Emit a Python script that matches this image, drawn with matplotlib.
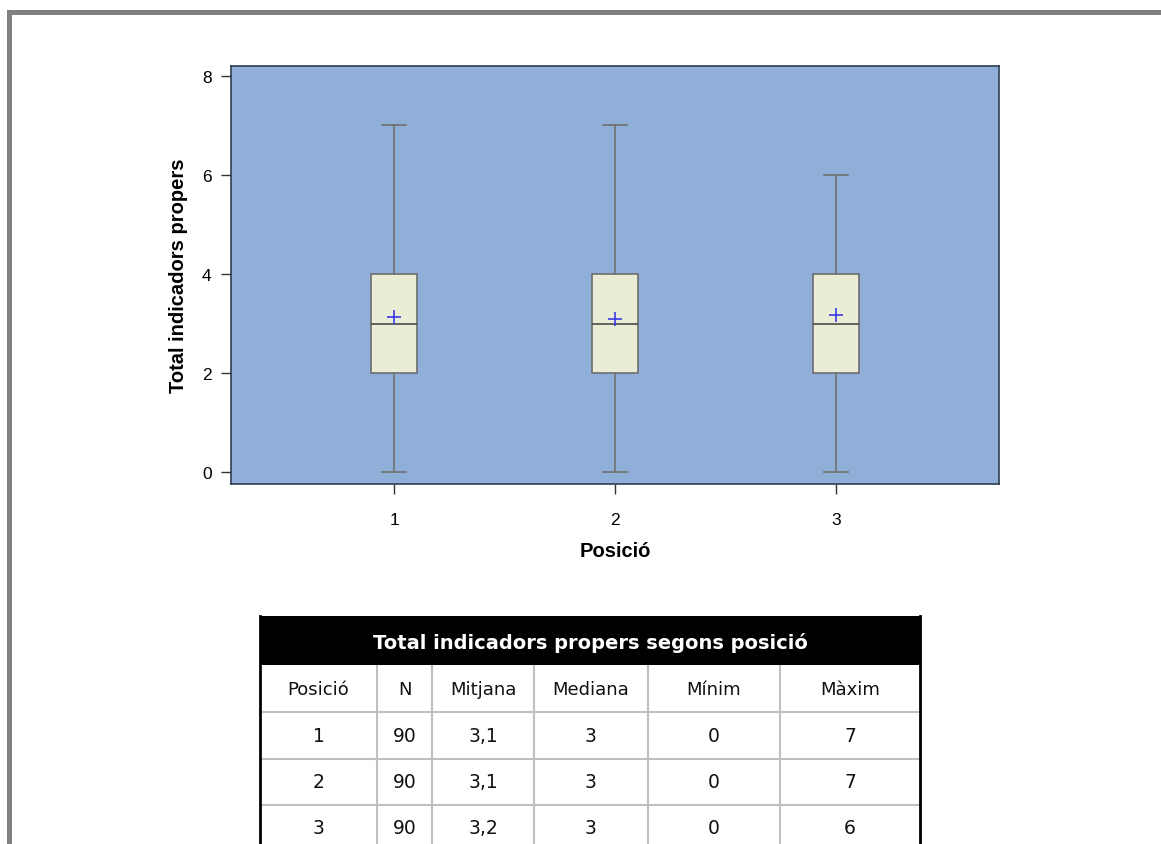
import numpy as np
import matplotlib.pyplot as plt
from matplotlib.patches import Rectangle

# Resum per posició (quartils, extrems i mitjana)
posicions = [1, 2, 3]
minims = [0, 0, 0]
q1 = [2, 2, 2]
medianes = [3, 3, 3]
q3 = [4, 4, 4]
maxims = [7, 7, 6]
mitjanes = [3.13, 3.10, 3.17]

# Taula resum
titol_taula = "Total indicadors propers segons posició"
capcalera = ["Posició", "N", "Mitjana", "Mediana", "Mínim", "Màxim"]
n_casos = [90, 90, 90]
mitjanes_txt = ["3,1", "3,1", "3,2"]

W, H = 1161, 845
fig = plt.figure(figsize=(W / 100, H / 100), dpi=100)

# capa de fons en píxels per al marc i la taula
bg = fig.add_axes([0, 0, 1, 1])
bg.set_xlim(0, W)
bg.set_ylim(H, 0)
bg.axis("off")
bg.add_patch(Rectangle((7, 11), W, 5, color="#808080", lw=0))
bg.add_patch(Rectangle((7, 11), 5, H, color="#808080", lw=0))

# gràfic de caixes
ax = fig.add_axes([231 / W, 1 - 485 / H, (999 - 231) / W, (485 - 67) / H])
ax.set_facecolor("#8FAED8")
stats = []
for i in range(len(posicions)):
    stats.append(dict(whislo=minims[i], q1=q1[i], med=medianes[i], q3=q3[i],
                      whishi=maxims[i], mean=mitjanes[i], fliers=[]))
ax.bxp(stats, positions=posicions, widths=0.21, patch_artist=True, showmeans=True,
       boxprops=dict(facecolor="#E9EDD5", edgecolor="#6E6E6E", lw=1.2),
       whiskerprops=dict(color="#707070", lw=1.2),
       capprops=dict(color="#707070", lw=1.2),
       medianprops=dict(color="#4A4A4A", lw=1.2),
       meanprops=dict(marker="+", markeredgecolor="#3A3AE8", markersize=10, markeredgewidth=1.2),
       capwidths=0.11)
ax.set_xlim(0.26, 3.74)
ax.set_ylim(-0.24, 8.2)
ax.set_yticks([0, 2, 4, 6, 8])
ax.set_xticks(posicions)
ax.set_xticklabels([str(p) for p in posicions])
for s in ax.spines.values():
    s.set_color("#2F3E50")
    s.set_linewidth(1.2)
ax.tick_params(direction="out", length=7, width=1, color="#333333",
               labelsize=12.5, labelfontfamily="Liberation Sans")
ax.tick_params(axis="x", pad=13)
ax.tick_params(axis="y", pad=7)
ax.set_xlabel("Posició", fontsize=14.5, fontweight="bold", family="Liberation Sans", labelpad=10)
ax.set_ylabel("Total indicadors propers", fontsize=14.5, fontweight="bold",
              family="Liberation Sans", labelpad=10)

# taula de resultats
cols = [260, 377, 432, 534, 648, 780, 920]
files = [667, 713, 760, 806, 852]
bg.add_patch(Rectangle((260, 617), 660, 49, color="black", lw=0))
bg.text(590, 643, titol_taula, color="white", fontsize=14, fontweight="bold",
        family="DejaVu Sans", ha="center", va="center")
cont = [capcalera]
for i in range(len(posicions)):
    cont.append([str(posicions[i]), str(n_casos[i]), mitjanes_txt[i],
                 str(medianes[i]), str(minims[i]), str(maxims[i])])
for y in files[1:-1]:
    bg.plot([cols[0], cols[-1]], [y, y], color="#C0C0C0", lw=1.5)
for x in cols[1:-1]:
    bg.plot([x, x], [files[0], H], color="#C0C0C0", lw=1.5)
bg.plot([cols[0], cols[0]], [617, H], color="black", lw=2)
bg.plot([cols[-1], cols[-1]], [617, H], color="black", lw=2)
for r, fila in enumerate(cont):
    yc = (files[r] + files[r + 1]) / 2
    for c, val in enumerate(fila):
        xc = (cols[c] + cols[c + 1]) / 2
        bg.text(xc, yc, val, fontsize=13.5 if r else 13, family="DejaVu Sans",
                ha="center", va="center", color="#111111")

fig.savefig("out.png", dpi=100)
